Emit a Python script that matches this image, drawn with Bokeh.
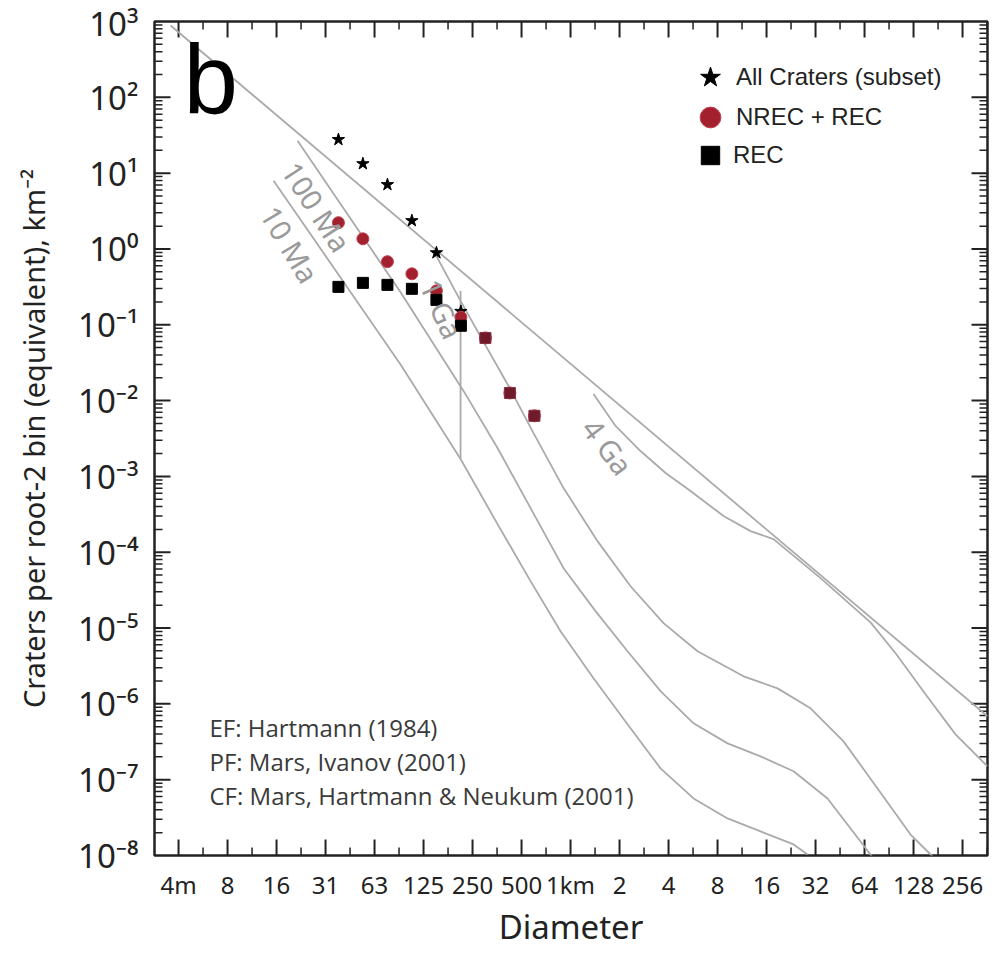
from math import log2, log10
from bokeh.plotting import figure
from bokeh.models import (CustomJSTickFormatter, Label, Legend, LegendItem,
                          Range1d, FixedTicker)
from bokeh.embed import file_html
from bokeh.resources import INLINE

# ---------------- data (diameter in metres, density per root-2 bin per km^2)
x_tick_labels = ["4m", "8", "16", "31", "63", "125", "250", "500", "1km",
                 "2", "4", "8", "16", "32", "64", "128", "256"]

star_d = [37.5, 53, 75, 106, 150, 212]
star_n = [27.7, 13.3, 7.05, 2.36, 0.89, 0.15]

bin_d = [37.5, 53, 75, 106, 150, 212, 300, 424, 600]
nrec_rec_n = [2.22, 1.36, 0.68, 0.47, 0.28, 0.126, 0.067, 0.0126, 0.0063]
rec_n = [0.316, 0.357, 0.336, 0.298, 0.213, 0.097, 0.067, 0.0126, 0.0063]

ef_d = [3.49, 364400]
ef_n = [886, 6.85e-7]

iso_10ma_d = [14.98, 90.3, 211, 356, 568, 868, 1384, 2239, 3572, 5697, 9215,
              14700, 23440, 28580]
iso_10ma_n = [7.95, 0.030, 1.70e-3, 2.35e-4, 4.16e-5, 9.09e-6, 2.18e-6, 5.38e-7,
              1.41e-7, 5.66e-8, 3.08e-8, 2.08e-8, 1.40e-8, 1.03e-8]

iso_100ma_d = [21.03, 90.3, 220.1, 356, 568, 905.8, 1424, 2239, 3572, 5697,
               9215, 14700, 23440, 37920, 60470, 72690]
iso_100ma_n = [26.8, 0.2689, 0.01342, 2.37e-3, 3.82e-4, 6.16e-5, 1.67e-5,
               4.94e-6, 1.47e-6, 5.54e-7, 3.01e-7, 2.03e-7, 1.29e-7, 5.66e-8,
               1.53e-8, 9.1e-9]

iso_1ga_d = [144.0, 211, 292.0, 416.0, 592.5, 905.8, 1465, 2337, 3726, 6029,
             11558, 18690, 29820, 47540, 76910, 122700, 167500]
iso_1ga_n = [0.947, 0.207, 0.0594, 0.0156, 3.73e-3, 7.01e-4, 1.40e-4, 3.56e-5,
             1.16e-5, 4.94e-6, 2.31e-6, 1.60e-6, 8.73e-7, 3.20e-7, 7.66e-8,
             1.89e-8, 9.7e-9]

iso_4ga_d = [1384, 1890, 2692, 3835, 5461, 8707, 12757, 17663, 34342, 69644,
             99251, 151670, 231780, 364400]
iso_4ga_n = [0.01225, 4.63e-3, 2.16e-3, 1.11e-3, 6.41e-4, 3.00e-4, 1.90e-4,
             1.49e-4, 4.55e-5, 1.19e-5, 4.65e-6, 1.34e-6, 3.96e-7, 1.50e-7]

marker_d = [211, 211]
marker_n = [0.28, 1.70e-3]

iso_labels = ["10 Ma", "100 Ma", "1 Ga", "4 Ga"]
iso_label_d = [13.95, 18.78, 136.1, 1308.6]
iso_label_n = [3.40, 12.9, 0.380, 5.22e-3]
iso_label_angle = [-59, -57, -66, -53]

notes = ["EF: Hartmann (1984)", "PF: Mars, Ivanov (2001)",
         "CF: Mars, Hartmann & Neukum (2001)"]

legend_labels = ["All Craters (subset)", "NREC + REC", "REC"]

# ---------------- layout constants
X_MIN, X_MAX = 2.78, 364400
Y_MIN, Y_MAX = 1e-8, 1e3
FRAME_W, FRAME_H = 833, 834
INK = "#222222"

p = figure(frame_width=FRAME_W, frame_height=FRAME_H,
           x_axis_type="log", y_axis_type="log",
           x_range=Range1d(X_MIN, X_MAX), y_range=Range1d(Y_MIN, Y_MAX),
           output_backend="svg", toolbar_location=None,
           min_border_left=154, min_border_right=13, min_border_top=21,
           min_border_bottom=99)
p.grid.visible = False
p.background_fill_color = "white"
p.border_fill_color = "white"
p.outline_line_color = INK
p.outline_line_width = 2.5

x_major = [1000 * 2.0 ** k for k in range(-8, 9)]
x_minor = [1000 * 2.0 ** (k + 0.5) for k in range(-9, 9)]
y_major = [10.0 ** k for k in range(-8, 4)]
y_minor = [m * 10.0 ** k for k in range(-8, 3) for m in range(2, 10)]

xfmt = CustomJSTickFormatter(args=dict(labels=x_tick_labels), code="""
const k = Math.round(Math.log2(tick / 1000)) + 8;
return (k >= 0 && k < labels.length) ? labels[k] : "";
""")
yfmt = CustomJSTickFormatter(code="""
const e = Math.round(Math.log10(tick));
const sup = {"-": "\u207b", "0": "\u2070", "1": "\u00b9", "2": "\u00b2", "3": "\u00b3",
             "4": "\u2074", "5": "\u2075", "6": "\u2076", "7": "\u2077", "8": "\u2078", "9": "\u2079"};
return "10" + String(e).split("").map(c => sup[c]).join("");
""")

for ax, ticks, fmt in [(p.xaxis[0], x_major, xfmt), (p.yaxis[0], y_major, yfmt)]:
    ax.ticker = FixedTicker(ticks=ticks, minor_ticks=[])
    ax.formatter = fmt
    ax.axis_line_color = None
    ax.major_tick_line_color = None
    ax.minor_tick_line_color = None
    ax.major_tick_in = 0
    ax.major_tick_out = 0
    ax.minor_tick_in = 0
    ax.minor_tick_out = 0
    ax.major_label_text_font = "Noto Sans"
    ax.major_label_text_color = INK
    ax.axis_label_text_font = "Noto Sans"
    ax.axis_label_text_font_style = "normal"
    ax.axis_label_text_color = INK

xa = p.xaxis[0]
xa.major_label_text_font_size = "24px"
xa.major_label_standoff = 12
xa.axis_label = "Diameter"
xa.axis_label_text_font_size = "33px"
xa.axis_label_standoff = 0

ya = p.yaxis[0]
ya.major_label_text_font_size = "33px"
ya.major_label_standoff = 16
ya.axis_label = "Craters per root-2 bin (equivalent), km\u207b\u00b2"
ya.axis_label_text_font_size = "29px"
ya.axis_label_standoff = 22

# ---------------- inward ticks on all four sides
ppx = FRAME_W / log2(X_MAX / X_MIN)
ppy = FRAME_H / log10(Y_MAX / Y_MIN)
for ticks, L, w in [(x_major, 16, 2), (x_minor, 8, 1.5)]:
    xs = [t for t in ticks if X_MIN < t < X_MAX]
    n = len(xs)
    f = 10 ** (L / ppy)
    p.segment(x0=xs, y0=[Y_MIN] * n, x1=xs, y1=[Y_MIN * f] * n,
              line_color=INK, line_width=w)
    p.segment(x0=xs, y0=[Y_MAX] * n, x1=xs, y1=[Y_MAX / f] * n,
              line_color=INK, line_width=w)
for ticks, L, w in [(y_major, 16, 2), (y_minor, 8, 1.5)]:
    ys = [t for t in ticks if Y_MIN < t < Y_MAX]
    n = len(ys)
    f = 2 ** (L / ppx)
    p.segment(x0=[X_MIN] * n, y0=ys, x1=[X_MIN * f] * n, y1=ys,
              line_color=INK, line_width=w)
    p.segment(x0=[X_MAX] * n, y0=ys, x1=[X_MAX / f] * n, y1=ys,
              line_color=INK, line_width=w)

# ---------------- curves
curve_color = "#aaaaaa"
for d, n in [(ef_d, ef_n), (iso_10ma_d, iso_10ma_n), (iso_100ma_d, iso_100ma_n),
             (iso_1ga_d, iso_1ga_n), (iso_4ga_d, iso_4ga_n), (marker_d, marker_n)]:
    p.line(d, n, line_color=curve_color, line_width=1.8)

for t, d, n, a in zip(iso_labels, iso_label_d, iso_label_n, iso_label_angle):
    p.add_layout(Label(x=d, y=n, text=t, angle=a, angle_units="deg",
                       text_font="Noto Sans", text_font_size="29px",
                       text_color="#9a9a9a", text_align="left",
                       text_baseline="middle"))

# ---------------- data points
stars = p.scatter(star_d, star_n, marker="star", size=13, fill_color="black",
                  line_color="black")
circles = p.scatter(bin_d, nrec_rec_n, marker="circle", size=12,
                    fill_color="#a3202f", line_color="#c04050", line_width=1)

idx_black = [i for i in range(len(bin_d)) if rec_n[i] != nrec_rec_n[i]]
idx_same = [i for i in range(len(bin_d)) if rec_n[i] == nrec_rec_n[i]]
squares = p.scatter([bin_d[i] for i in idx_black], [rec_n[i] for i in idx_black],
                    marker="square", size=11, fill_color="black", line_color="black")
p.scatter([bin_d[i] for i in idx_same], [rec_n[i] for i in idx_same],
          marker="square", size=11, fill_color="#6e1a2b", line_color="#8a3040")

# one single-item legend per entry, so each marker can be large
for label, r, loc, g in [(legend_labels[0], stars, (530, 752), 52),
                         (legend_labels[1], circles, (530, 712), 52),
                         (legend_labels[2], squares, (533, 677), 46)]:
    p.add_layout(Legend(items=[LegendItem(label=label, renderers=[r])],
                        location=loc, glyph_width=g, glyph_height=g,
                        label_standoff=0, padding=0, margin=0,
                        border_line_color=None, background_fill_alpha=0,
                        label_text_font="Liberation Sans",
                        label_text_font_size="24px", label_text_color=INK))

# ---------------- texts
for i, t in enumerate(notes):
    p.add_layout(Label(x=55, y=128 - 34 * i, x_units="screen", y_units="screen",
                       text=t, text_font="Open Sans", text_font_size="24px",
                       text_color="#3a3a3a", text_baseline="middle"))

p.add_layout(Label(x=29, y=777, x_units="screen", y_units="screen", text="b",
                   text_font="Liberation Sans", text_font_size="98px",
                   text_color="black", text_baseline="middle"))

open("out.html", "w").write(file_html(p, INLINE))
